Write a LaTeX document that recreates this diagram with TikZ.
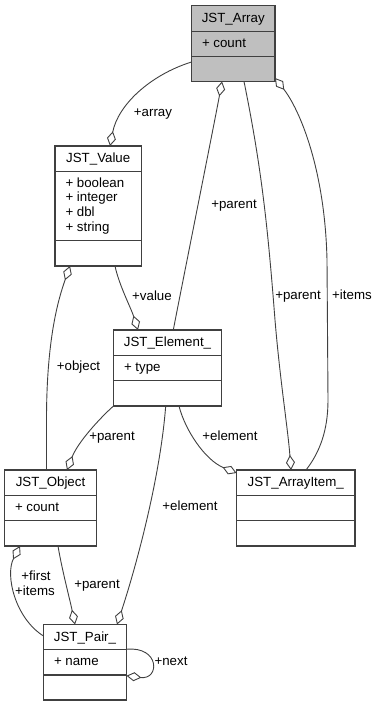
\documentclass[tikz,border=0pt]{standalone}
\usepackage{fontspec}
\setmainfont{Liberation Sans}
\usetikzlibrary{arrows.meta}
\definecolor{linegray}{HTML}{404040}
\definecolor{headfill}{HTML}{BFBFBF}
\begin{document}
\begin{tikzpicture}[x=1pt,y=-1pt,
  classbox/.style={draw=linegray, line width=1.3pt, inner sep=0pt, outer sep=0pt, fill=white},
  sepline/.style={draw=linegray, line width=1.3pt},
  txt/.style={inner sep=0pt, outer sep=0pt, font=\fontsize{13.3}{14.7}\selectfont},
  title/.style={txt, anchor=base},
  attr/.style={txt, anchor=base west},
  lbl/.style={txt, anchor=base},
  rel/.style={draw=linegray, line width=0.9pt,
    -{Diamond[length=15pt,width=9pt,fill=white]}},
]
\useasboundingbox (0,0) rectangle (379,707);

% ---------- classes ----------
\node[classbox, fill=headfill, minimum width=83.5pt, minimum height=76pt] (array) at (233.25,43.5) {};
\draw[sepline] ([yshift=-26pt]array.north west) -- ([yshift=-26pt]array.north east);
\draw[sepline] ([yshift=25pt]array.south west) -- ([yshift=25pt]array.south east);
\node[title] (arrayT) at (233.25,22) {JST\_Array};
\node[attr] (arrayA) at (202,47) {+ count};

\node[classbox, minimum width=86.5pt, minimum height=120pt] (value) at (98.25,206) {};
\draw[sepline] ([yshift=-25.5pt]value.north west) -- ([yshift=-25.5pt]value.north east);
\draw[sepline] ([yshift=25.5pt]value.south west) -- ([yshift=25.5pt]value.south east);
\node[title] (valueT) at (98.25,162.5) {JST\_Value};
\node[attr] (valueA1) at (65.5,187) {+ boolean};
\node[attr] (valueA2) at (65.5,201.7) {+ integer};
\node[attr] (valueA3) at (65.5,216.4) {+ dbl};
\node[attr] (valueA4) at (65.5,231.1) {+ string};

\node[classbox, minimum width=108pt, minimum height=76pt] (element) at (167.5,368) {};
\draw[sepline] ([yshift=-25.5pt]element.north west) -- ([yshift=-25.5pt]element.north east);
\draw[sepline] ([yshift=25.5pt]element.south west) -- ([yshift=25.5pt]element.south east);
\node[title] (elementT) at (167.5,346.5) {JST\_Element\_};
\node[attr] (elementA) at (124,371) {+ type};

\node[classbox, minimum width=92pt, minimum height=76pt] (object) at (50.5,508) {};
\draw[sepline] ([yshift=-25.5pt]object.north west) -- ([yshift=-25.5pt]object.north east);
\draw[sepline] ([yshift=25.5pt]object.south west) -- ([yshift=25.5pt]object.south east);
\node[title] (objectT) at (50.5,486.5) {JST\_Object};
\node[attr] (objectA) at (15,511) {+ count};

\node[classbox, minimum width=118.5pt, minimum height=76pt] (arrayitem) at (295.75,508) {};
\draw[sepline] ([yshift=-25.5pt]arrayitem.north west) -- ([yshift=-25.5pt]arrayitem.north east);
\draw[sepline] ([yshift=25.5pt]arrayitem.south west) -- ([yshift=25.5pt]arrayitem.south east);
\node[title] (arrayitemT) at (295.75,486.5) {JST\_ArrayItem\_};

\node[classbox, minimum width=83pt, minimum height=75.5pt] (pair) at (85,662.25) {};
\draw[sepline] ([yshift=-25pt]pair.north west) -- ([yshift=-25pt]pair.north east);
\draw[sepline] ([yshift=25pt]pair.south west) -- ([yshift=25pt]pair.south east);
\node[title] (pairT) at (85,641) {JST\_Pair\_};
\node[attr] (pairA) at (54,665) {+ name};

% ---------- relations (diamond at the owning class) ----------
\draw[rel] ([yshift=-18.5pt]array.west) .. controls (150,75) and (118,105) .. ([xshift=11.75pt]value.north);
\node[lbl] (lArray) at (153,116) {+array};

\draw[rel] ([xshift=16.75pt]value.south) .. controls (119,285) and (131,308) .. ([xshift=-29.5pt]element.north);
\node[lbl] (lValue) at (152,300) {+value};

\draw[rel] ([xshift=5.8pt]element.north) .. controls (178,305) and (215,120) .. ([xshift=-11.25pt]array.south);
\node[lbl] (lParentAE) at (234,208) {+parent};

\draw[rel] ([xshift=10.75pt]array.south) .. controls (262,170) and (268,230) .. (275,320)
  .. controls (280,380) and (288,430) .. ([xshift=-4.75pt]arrayitem.north);
\node[lbl] (lParentAI) at (298,299.5) {+parent};

\draw[rel] ([xshift=10.25pt]arrayitem.north) .. controls (320,452) and (328,430) .. (328,400)
  -- (327,260) .. controls (325,170) and (300,110) .. ([yshift=3.5pt]array.south east);
\node[lbl] (lItemsA) at (352,299.5) {+items};

\draw[rel] ([xshift=11.5pt]element.south) .. controls (185,430) and (205,460) .. ([yshift=35pt]arrayitem.west);
\node[lbl] (lElementAI) at (230,440) {+element};

\draw[rel] ([xshift=-4pt]object.north) -- (46.5,420) .. controls (46.5,340) and (58,300) .. ([xshift=-28.25pt]value.south);
\node[lbl] (lObject) at (78.5,370) {+object};

\draw[rel] (element.south west) .. controls (100,418) and (78,442) .. ([xshift=16.5pt]object.north);
\node[lbl] (lParentEO) at (112,440) {+parent};

\draw[rel] ([yshift=26.25pt]pair.west) .. controls (15,618) and (5,575) .. ([xshift=-30.5pt]object.south);
\node[lbl] (lFirst) at (36,580) {+first};
\node[lbl] (lItemsO) at (35,595.5) {+items};

\draw[rel] ([xshift=7.5pt]object.south) .. controls (62,570) and (70,600) .. ([xshift=-10pt]pair.north);
\node[lbl] (lParentOP) at (97,588) {+parent};

\draw[rel] ([xshift=-1.8pt]element.south) .. controls (160,480) and (135,570) .. ([xshift=32pt]pair.north);
\node[lbl] (lElementP) at (190,510) {+element};

\draw[rel] ([yshift=13pt]pair.east) .. controls (160,646) and (160,680) .. ([yshift=-13.5pt]pair.east);
\node[lbl] (lNext) at (171,665) {+next};
\end{tikzpicture}
\end{document}
